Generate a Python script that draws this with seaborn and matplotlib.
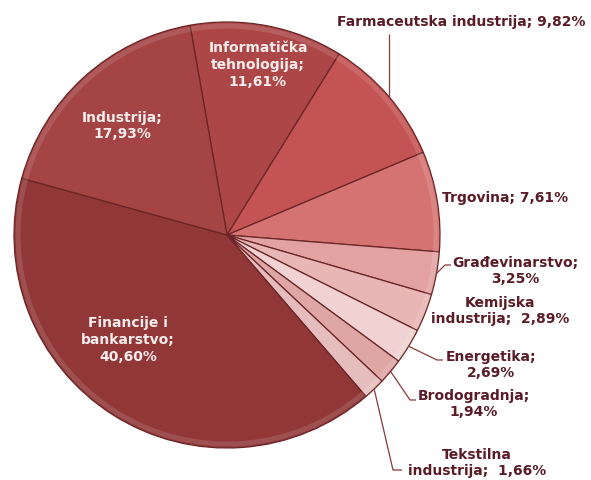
import matplotlib
matplotlib.use("Agg")
import matplotlib.pyplot as plt
import seaborn as sns
import numpy as np

# ---- data ----
sectors = ["Informatička\ntehnologija", "Farmaceutska industrija", "Trgovina",
           "Građevinarstvo", "Kemijska\nindustrija", "Energetika", "Brodogradnja",
           "Tekstilna\nindustrija", "Financije i\nbankarstvo", "Industrija"]
shares = [11.61, 9.82, 7.61, 3.25, 2.89, 2.69, 1.94, 1.66, 40.60, 17.93]
separators = ["\n", " ", " ", "\n", "  ", "\n", "\n", "  ", "\n", "\n"]

# ---- style ----
slice_colors = ["#ad4747", "#c45353", "#d57373", "#e3a2a2", "#e9b6b6",
                "#f1d2d2", "#dfa6a6", "#e6bdbd", "#913737", "#a44444"]
inside = [True, False, False, False, False, False, False, False, True, True]
# label centres in pixel coordinates (x, y from top)
label_pos = [(258, 65), (461, 22), (505, 198), (515, 271), (500, 311),
             (491, 365), (474, 404), (477, 463), (128, 340), (122, 126)]
# leader elbows (pixel coords from top), None = no leader
leaders = [None, [(None, 34)], None, [(445, 265), (451, 265)], None,
           [(437, 360), (443, 360)], [(410, 400), (416, 400)],
           [(393, 470), (402, 470)], None, None]

W, H = 591, 480
sns.set_theme(style="white")
plt.rcParams['font.family'] = ['DejaVu Sans']
palette = sns.color_palette(slice_colors)

fig = plt.figure(figsize=(W / 100, H / 100), dpi=100)
ax = fig.add_axes([0, 0, 1, 1])

cx, cy, R = 227, H - 235, 213
wedges, _ = ax.pie(shares, colors=palette, startangle=100, counterclock=False,
                   center=(cx, cy), radius=R, frame=True,
                   wedgeprops=dict(edgecolor="#6a2626", linewidth=0.9))
ax.set_xlim(0, W)
ax.set_ylim(0, H)
ax.set_aspect('equal')
ax.axis('off')

# subtle bevel highlight along slice rims
for w in wedges:
    rim = matplotlib.patches.Wedge((cx, cy), R - 1.5, w.theta1, w.theta2, width=5,
                                   facecolor="white", alpha=0.12, edgecolor="none")
    ax.add_patch(rim)

text_dark = "#5a1c26"
for i, (name, sep, val) in enumerate(zip(sectors, separators, shares)):
    txt = f"{name};{sep}{val:.2f}%".replace(".", ",")
    x, y = label_pos[i]
    ax.text(x, H - y, txt, ha="center", va="center", fontsize=10,
            fontweight="bold", color="#f7eded" if inside[i] else text_dark,
            linespacing=1.25)
    if leaders[i]:
        w = wedges[i]
        mid = np.deg2rad((w.theta1 + w.theta2) / 2)
        ex, ey = cx + R * np.cos(mid), cy + R * np.sin(mid)
        xs, ys = [ex], [ey]
        for px, py in leaders[i]:
            xs.append(ex if px is None else px)
            ys.append(H - py)
        ax.plot(xs, ys, color="#8a3a3a", lw=0.9, solid_capstyle="butt")

fig.savefig("out.png", dpi=100)
